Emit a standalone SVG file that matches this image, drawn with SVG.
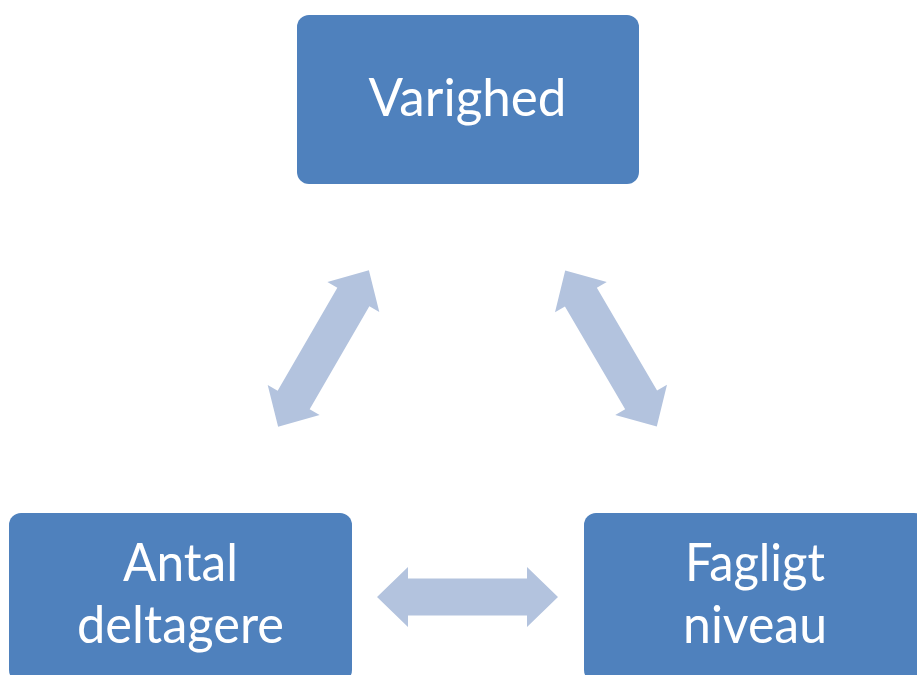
<svg xmlns="http://www.w3.org/2000/svg" xmlns:xlink="http://www.w3.org/1999/xlink" width="917" height="675" viewBox="0 0 917 675">
<style>
.box{fill:#4F81BD;}
.lbl{fill:#FFFFFF;font-family:Lato,"Open Sans","Liberation Sans",sans-serif;font-size:52px;text-anchor:middle;}
.arr{fill:#B3C3DE;}
</style>
<defs>
<path id="dbl" d="M-90.5,0 L-59.5,-30 L-59.5,-18.5 L59.5,-18.5 L59.5,-30 L90.5,0 L59.5,30 L59.5,18.5 L-59.5,18.5 L-59.5,30 Z"/>
</defs>
<rect width="917" height="675" fill="#FFFFFF"/>
<g id="connectors">
<use xlink:href="#dbl" class="arr" transform="translate(323.5,348.5) rotate(-59.9)"/>
<use xlink:href="#dbl" class="arr" transform="translate(611,348.5) rotate(59.6)"/>
<use xlink:href="#dbl" class="arr" transform="translate(467.5,597)"/>
</g>
<g id="node-varighed">
<rect class="box" x="297" y="15" width="342" height="169" rx="12"/>
<text class="lbl" x="467.5" y="116" textLength="198" lengthAdjust="spacingAndGlyphs">Varighed</text>
</g>
<g id="node-antal">
<rect class="box" x="9" y="513" width="343" height="169" rx="12"/>
<text class="lbl" x="180.5" y="581" textLength="115" lengthAdjust="spacingAndGlyphs">Antal</text>
<text class="lbl" x="180.5" y="643" textLength="207" lengthAdjust="spacingAndGlyphs">deltagere</text>
</g>
<g id="node-fagligt">
<rect class="box" x="584" y="513" width="342" height="169" rx="12"/>
<text class="lbl" x="755" y="581" textLength="140" lengthAdjust="spacingAndGlyphs">Fagligt</text>
<text class="lbl" x="755" y="643" textLength="144" lengthAdjust="spacingAndGlyphs">niveau</text>
</g>
</svg>
